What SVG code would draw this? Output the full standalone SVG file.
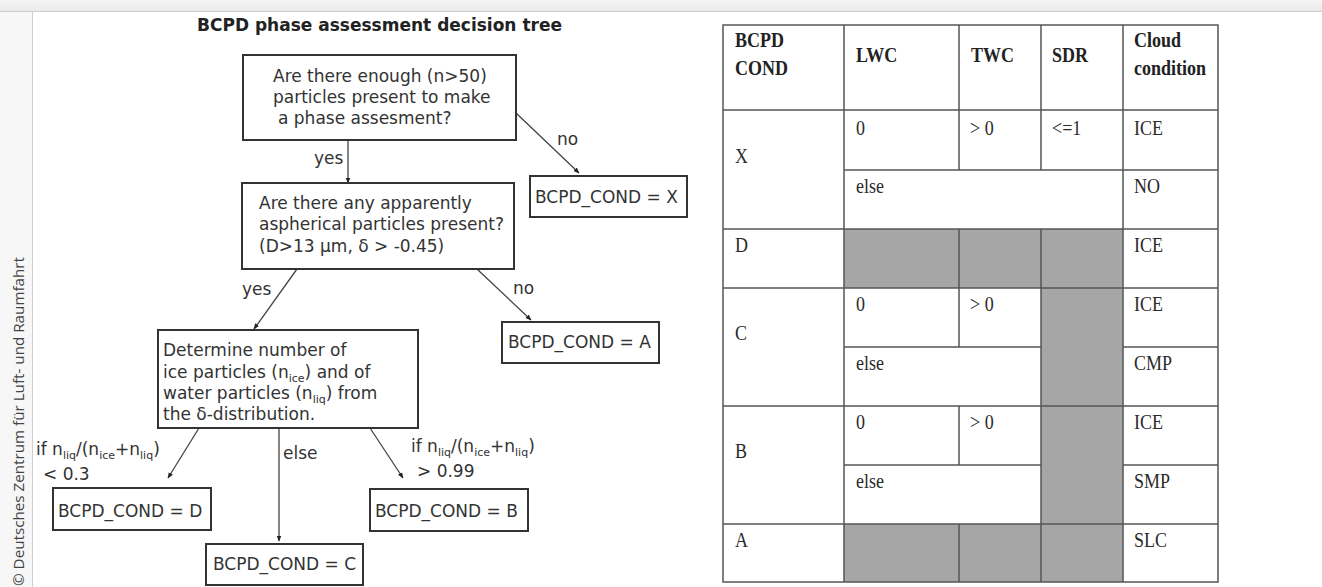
<svg xmlns="http://www.w3.org/2000/svg" width="1322" height="587" viewBox="0 0 1322 587">
<defs>
<linearGradient id="topg" x1="0" y1="0" x2="0" y2="1"><stop offset="0" stop-color="#f6f6f6"/><stop offset="1" stop-color="#e9e9e9"/></linearGradient>
<marker id="ah" viewBox="0 0 10 10" refX="9" refY="5" markerWidth="6" markerHeight="6" orient="auto" markerUnits="userSpaceOnUse"><path d="M0,1 L10,5 L0,9 Z" fill="#222"/></marker>
<style>
.box{fill:#fff;stroke:#333;stroke-width:2}
.t{font-family:"DejaVu Sans",sans-serif;font-size:17px;fill:#333}
.title{font-family:"DejaVu Sans",sans-serif;font-size:17px;font-weight:bold;fill:#222}
.sub{font-size:11px}
.edge{stroke:#444;stroke-width:1.3;fill:none;marker-end:url(#ah)}
.tb{font-family:"Liberation Serif","Times New Roman",serif;font-size:18px;fill:#2a2a2a}
.tbb{font-family:"Liberation Serif","Times New Roman",serif;font-size:18px;font-weight:bold;fill:#222}
.gl{stroke:#555;stroke-width:1.5;fill:none}
.gray{fill:#a6a6a6}
</style>
</defs>
<rect width="1322" height="587" fill="#fff"/>
<rect x="0" y="0" width="1322" height="11" fill="url(#topg)"/>
<line x1="0" y1="11.5" x2="1322" y2="11.5" stroke="#cfcfcf" stroke-width="1"/>
<rect x="0" y="12" width="32" height="575" fill="#f7f7f7"/>
<line x1="32.5" y1="12" x2="32.5" y2="587" stroke="#cfcfcf" stroke-width="1"/>
<text transform="translate(24,586) rotate(-90)" font-family="'Open Sans',sans-serif" font-size="14" fill="#444" textLength="329" lengthAdjust="spacingAndGlyphs">© Deutsches Zentrum für Luft- und Raumfahrt</text>

<text class="title" x="379.5" y="31" text-anchor="middle">BCPD phase assessment decision tree</text>

<g id="connectors">
<line class="edge" x1="348" y1="140" x2="348" y2="183"/>
<text class="t" x="314" y="164">yes</text>
<line class="edge" x1="516" y1="113" x2="579" y2="173"/>
<text class="t" x="557" y="145">no</text>
<line class="edge" x1="297" y1="269" x2="254" y2="329"/>
<text class="t" x="242" y="295">yes</text>
<line class="edge" x1="477" y1="269" x2="531" y2="320"/>
<text class="t" x="513" y="294">no</text>
<line class="edge" x1="199" y1="428" x2="168" y2="478"/>
<text class="t" x="36" y="455">if n<tspan class="sub" dy="4">liq</tspan><tspan dy="-4">/(n</tspan><tspan class="sub" dy="4">ice</tspan><tspan dy="-4">+n</tspan><tspan class="sub" dy="4">liq</tspan><tspan dy="-4">)</tspan></text>
<text class="t" x="43" y="480">&lt; 0.3</text>
<line class="edge" x1="279" y1="428" x2="279" y2="541"/>
<text class="t" x="283" y="459">else</text>
<line class="edge" x1="370" y1="428" x2="403" y2="478"/>
<text class="t" x="411" y="452">if n<tspan class="sub" dy="4">liq</tspan><tspan dy="-4">/(n</tspan><tspan class="sub" dy="4">ice</tspan><tspan dy="-4">+n</tspan><tspan class="sub" dy="4">liq</tspan><tspan dy="-4">)</tspan></text>
<text class="t" x="417" y="477">&gt; 0.99</text>
</g>

<g id="q1">
<rect class="box" x="243" y="55" width="273" height="85"/>
<text class="t" x="273" y="82">Are there enough (n&gt;50)</text>
<text class="t" x="273" y="103">particles present to make</text>
<text class="t" x="278" y="124">a phase assesment?</text>
</g>
<g id="q2">
<rect class="box" x="242" y="183" width="272" height="86"/>
<text class="t" x="259" y="209">Are there any apparently</text>
<text class="t" x="259" y="230">aspherical particles present?</text>
<text class="t" x="259" y="252">(D&gt;13 µm, δ &gt; -0.45)</text>
</g>
<g id="q3">
<rect class="box" x="158" y="330" width="260" height="98"/>
<text class="t" x="163" y="356">Determine number of</text>
<text class="t" x="163" y="378">ice particles (n<tspan class="sub" dy="4">ice</tspan><tspan dy="-4">) and of</tspan></text>
<text class="t" x="163" y="399">water particles (n<tspan class="sub" dy="4">liq</tspan><tspan dy="-4">) from</tspan></text>
<text class="t" x="163" y="420">the δ-distribution.</text>
</g>
<g id="resX">
<rect class="box" x="530" y="176" width="157" height="41"/>
<text class="t" x="535" y="203">BCPD_COND = X</text>
</g>
<g id="resA">
<rect class="box" x="502" y="322" width="157" height="41"/>
<text class="t" x="508" y="348">BCPD_COND = A</text>
</g>
<g id="resD">
<rect class="box" x="53" y="488" width="158" height="42"/>
<text class="t" x="58" y="517">BCPD_COND = D</text>
</g>
<g id="resB">
<rect class="box" x="370" y="489" width="158" height="42"/>
<text class="t" x="375" y="517">BCPD_COND = B</text>
</g>
<g id="resC">
<rect class="box" x="206" y="544" width="157" height="41"/>
<text class="t" x="213" y="570">BCPD_COND = C</text>
</g>

<g id="table">
<rect x="723" y="25" width="495" height="557" fill="#fff"/>
<rect class="gray" x="844" y="229" width="279" height="59"/>
<rect class="gray" x="1041" y="288" width="82" height="236"/>
<rect class="gray" x="844" y="524" width="279" height="58"/>
<rect class="gl" x="723" y="25" width="495" height="557"/>
<path class="gl" d="M844,25V582 M1123,25V582 M1041,25V170 M1041,229V582 M959,25V170 M959,229V288 M959,288V347 M959,406V465 M959,524V582
M723,110H1218 M844,170H1218 M723,229H1218 M723,288H1218 M844,347H1041 M1123,347H1218 M723,406H1218 M844,465H1041 M1123,465H1218 M723,524H1218"/>
<g transform="scale(1,1.15)">
<text class="tbb" x="735" y="40.87">BCPD</text>
<text class="tbb" x="735" y="65.22">COND</text>
<text class="tbb" x="856" y="53.91">LWC</text>
<text class="tbb" x="971" y="53.91">TWC</text>
<text class="tbb" x="1052" y="53.91">SDR</text>
<text class="tbb" x="1134" y="40.87">Cloud</text>
<text class="tbb" x="1134" y="65.22">condition</text>

<text class="tb" x="735" y="141.74">X</text>
<text class="tb" x="856" y="117.39">0</text>
<text class="tb" x="970" y="117.39">&gt; 0</text>
<text class="tb" x="1052" y="117.39">&lt;=1</text>
<text class="tb" x="1134" y="117.39">ICE</text>
<text class="tb" x="856" y="167.83">else</text>
<text class="tb" x="1134" y="167.83">NO</text>

<text class="tb" x="735" y="219.13">D</text>
<text class="tb" x="1134" y="219.13">ICE</text>

<text class="tb" x="735" y="295.65">C</text>
<text class="tb" x="856" y="270.43">0</text>
<text class="tb" x="970" y="270.43">&gt; 0</text>
<text class="tb" x="1134" y="270.43">ICE</text>
<text class="tb" x="856" y="321.74">else</text>
<text class="tb" x="1134" y="321.74">CMP</text>

<text class="tb" x="735" y="398.26">B</text>
<text class="tb" x="856" y="373.04">0</text>
<text class="tb" x="970" y="373.04">&gt; 0</text>
<text class="tb" x="1134" y="373.04">ICE</text>
<text class="tb" x="856" y="424.35">else</text>
<text class="tb" x="1134" y="424.35">SMP</text>

<text class="tb" x="735" y="475.65">A</text>
<text class="tb" x="1134" y="475.65">SLC</text>
</g>
</g>
</svg>
